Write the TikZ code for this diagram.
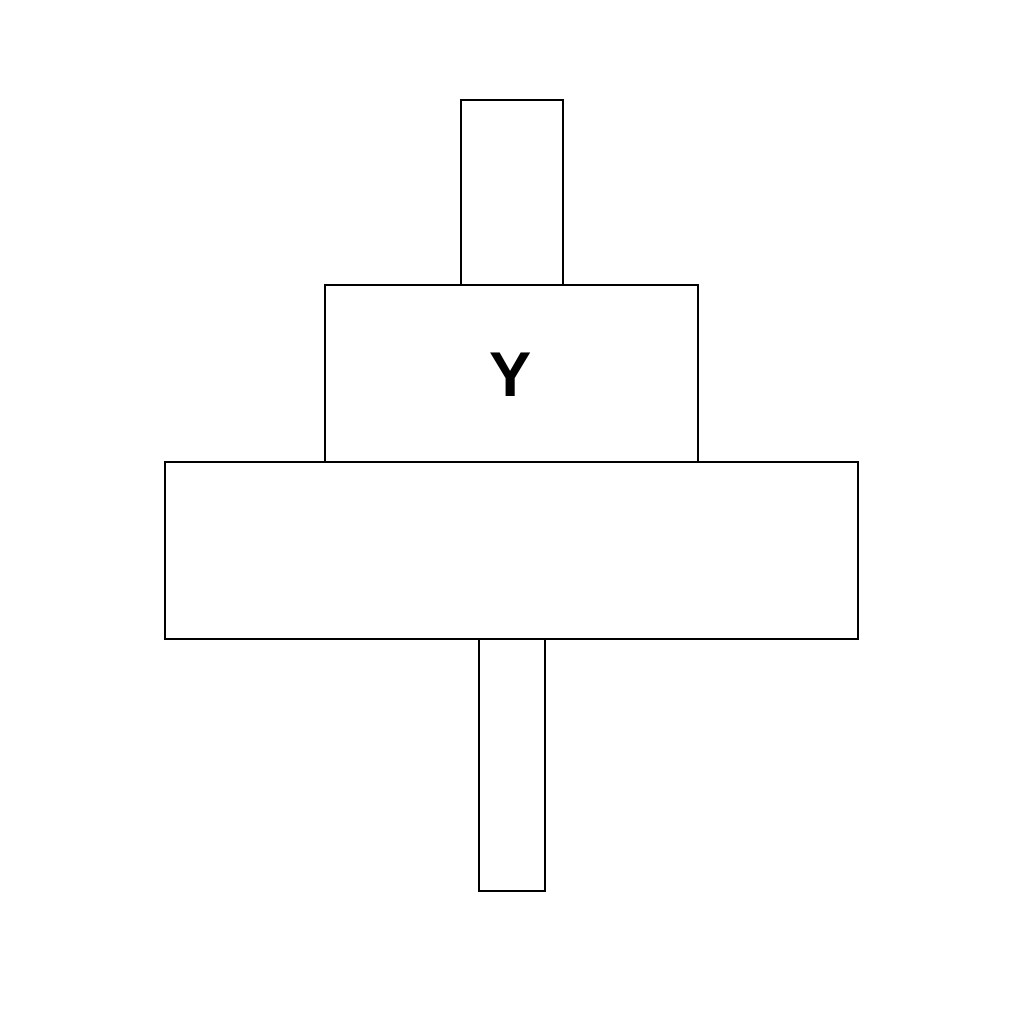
\documentclass[tikz,border=0pt]{standalone}
\usepackage{fontspec}
\setmainfont{Liberation Sans}
\begin{document}
\begin{tikzpicture}[x=0.01cm,y=-0.01cm,
  block/.style={draw=black, line width=0.6pt, fill=white, inner sep=0pt, outer sep=0pt}]
\useasboundingbox[fill=white] (0,0) rectangle (1024,1024);
\node[block, minimum width=1.02cm, minimum height=1.85cm] (top) at (512,192.5) {};
\node[block, minimum width=0.66cm, minimum height=2.52cm] (bot) at (512,765) {};
\node[block, minimum width=3.73cm, minimum height=1.77cm] (mid) at (511.5,373.5) {};
\node[block, minimum width=6.93cm, minimum height=1.77cm] (base) at (511.5,550.5) {};
\node[font=\bfseries\fontsize{18}{20}\selectfont] (lbl) at (511,375) {Y};
\end{tikzpicture}
\end{document}
